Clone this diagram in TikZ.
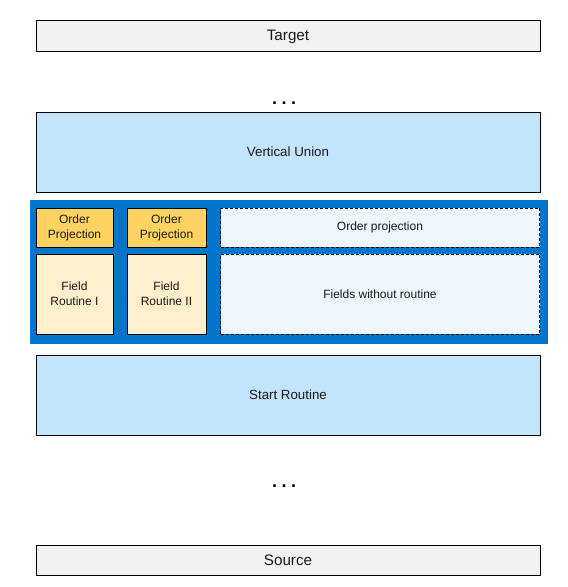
\documentclass[tikz,border=0pt]{standalone}
\usepackage{fontspec}
\setmainfont{Liberation Sans}
\definecolor{grayfill}{HTML}{F2F2F2}
\definecolor{lightblue}{HTML}{C2E4FC}
\definecolor{boxblue}{HTML}{0075C9}
\definecolor{orderfill}{HTML}{FFD262}
\definecolor{fieldfill}{HTML}{FFEFCC}
\definecolor{dashfill}{HTML}{EEF6FF}
\begin{document}
\begin{tikzpicture}[x=1pt,y=-1pt,
  boxbase/.style={draw=black, line width=1pt, inner sep=0pt, align=center, text=black!90},
  layer/.style={boxbase, fill=lightblue, font=\fontsize{13.3}{15}\selectfont},
  endbox/.style={boxbase, fill=grayfill, font=\fontsize{15.2}{17}\selectfont},
  orderbox/.style={boxbase, fill=orderfill, font=\fontsize{12}{15}\selectfont},
  fieldbox/.style={boxbase, fill=fieldfill, font=\fontsize{12}{15}\selectfont},
  dashbox/.style={boxbase, dashed, dash pattern=on 3pt off 2pt, fill=dashfill, font=\fontsize{12}{14}\selectfont},
  dots/.style={font=\fontsize{18}{18}\selectfont\bfseries, inner sep=0pt}
]
\useasboundingbox (0,0) rectangle (568,587);
\fill[white] (0,0) rectangle (568,587);
% blue container
\node[fill=boxblue, inner sep=0pt, minimum width=518pt, minimum height=144pt] (cont) at (289,272) {};
\node[endbox, minimum width=504pt, minimum height=31pt, text depth=0.5pt] (target) at (288,35.5) {Target};
\node[dots] (dotsA) at (284,103.5) {.\hspace{4.5pt}.\hspace{4.5pt}.};
\node[layer, minimum width=504pt, minimum height=80pt] (vu) at (288,152) {Vertical Union};
\node[orderbox, minimum width=77pt, minimum height=39pt] (op1) at (74.5,227.5) {Order\\Projection};
\node[orderbox, minimum width=79pt, minimum height=39pt] (op2) at (166.5,227.5) {Order\\Projection};
\node[dashbox, minimum width=319pt, minimum height=39pt] (op3) at (380,227.5) {Order projection};
\node[fieldbox, minimum width=77pt, minimum height=80pt] (fr1) at (74.5,294) {Field\\Routine I};
\node[fieldbox, minimum width=79pt, minimum height=80pt] (fr2) at (166.5,294) {Field\\Routine II};
\node[dashbox, minimum width=319pt, minimum height=80pt] (fwr) at (380,294) {Fields without routine};
\node[layer, minimum width=504pt, minimum height=80pt] (sr) at (288,395) {Start Routine};
\node[dots] (dotsB) at (284,486) {.\hspace{4.5pt}.\hspace{4.5pt}.};
\node[endbox, minimum width=504pt, minimum height=30pt, text depth=0.5pt] (source) at (288,560) {Source};
\end{tikzpicture}
\end{document}
